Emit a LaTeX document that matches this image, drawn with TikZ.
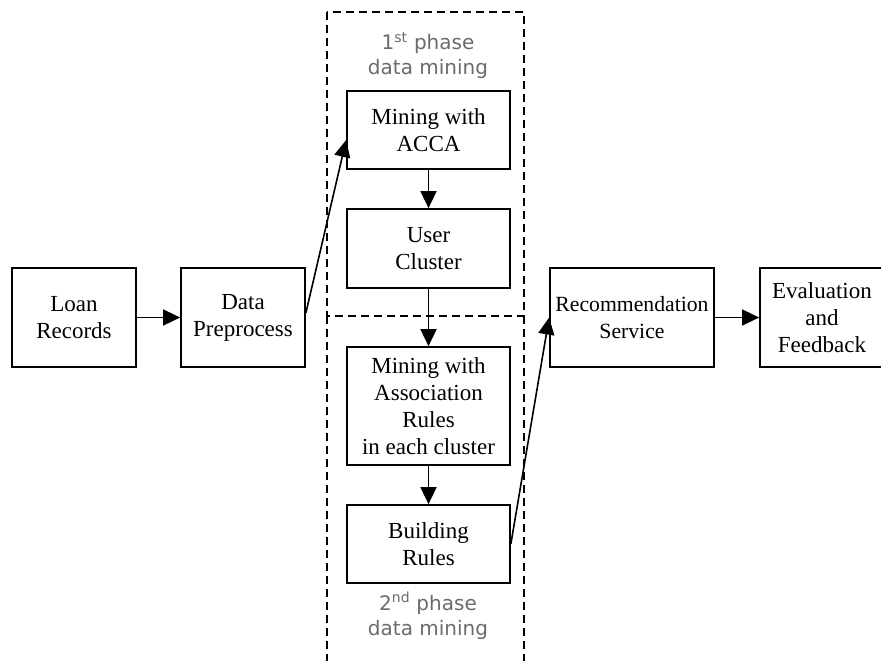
\documentclass[tikz,border=0pt]{standalone}
\usepackage{fontspec}
\setmainfont{Liberation Serif}
\newfontfamily\labelfont{DejaVu Sans}
\usetikzlibrary{arrows.meta}
\definecolor{labelgray}{gray}{0.42}
\tikzset{
  box/.style={draw=black, line width=1.7pt, fill=white, minimum width=#1, align=center, inner sep=0pt,
    font=\fontsize{23}{27}\selectfont},
  box/.default=124pt,
  conn/.style={line width=1.6pt, -{Triangle[length=17pt,width=16pt]}},
  phaseframe/.style={line width=1.3pt, dash pattern=on 8pt off 5pt},
  phaselabel/.style={text=labelgray, align=center, inner sep=0pt,
    font=\labelfont\fontsize{20}{25}\selectfont}
}
\begin{document}
\begin{tikzpicture}[x=1pt,y=-1pt]
\useasboundingbox (0,0) rectangle (881,661);
% phase frames
\draw[phaseframe] (327,12) rectangle (524,316);
\draw[phaseframe] (327,316) -- (327,668);
\draw[phaseframe] (524,316) -- (524,668);
\node[phaselabel] (lab1) at (428,55.5) {1\textsuperscript{st} phase\\data mining};
\node[phaselabel] (lab2) at (428,615.5) {2\textsuperscript{nd} phase\\data mining};
% boxes
\node[box, minimum height=99pt] (loan) at (74,317.5) {Loan\\Records};
\node[box, minimum height=99pt] (prep) at (243,317.5) {Data\\Preprocess};
\node[box=163pt, minimum height=78pt] (acca) at (428.5,130) {Mining with\\ACCA};
\node[box=163pt, minimum height=79pt] (user) at (428.5,248.5) {User\\Cluster};
\node[box=163pt, minimum height=118pt] (assoc) at (428.5,406) {Mining with\\Association\\Rules\\in each cluster};
\node[box=163pt, minimum height=78pt] (build) at (428.5,544) {Building\\Rules};
\node[box=164pt, minimum height=99pt, font=\fontsize{21.7}{27}\selectfont] (rec) at (632,317.5) {Recommendation\\Service};
\node[box, minimum height=99pt] (eval) at (822,317.5) {Evaluation\\and\\Feedback};
% connectors
\draw[conn] (loan.east) -- (prep.west);
\draw[conn] ([yshift=4.5pt]prep.east) -- ([yshift=-10pt]acca.west);
\draw[conn] (acca.south) -- (user.north);
\draw[conn] (user.south) -- (assoc.north);
\draw[conn] (assoc.south) -- (build.north);
\draw[conn] (build.east) -- (rec.west);
\draw[conn] (rec.east) -- (eval.west);
\end{tikzpicture}
\end{document}
